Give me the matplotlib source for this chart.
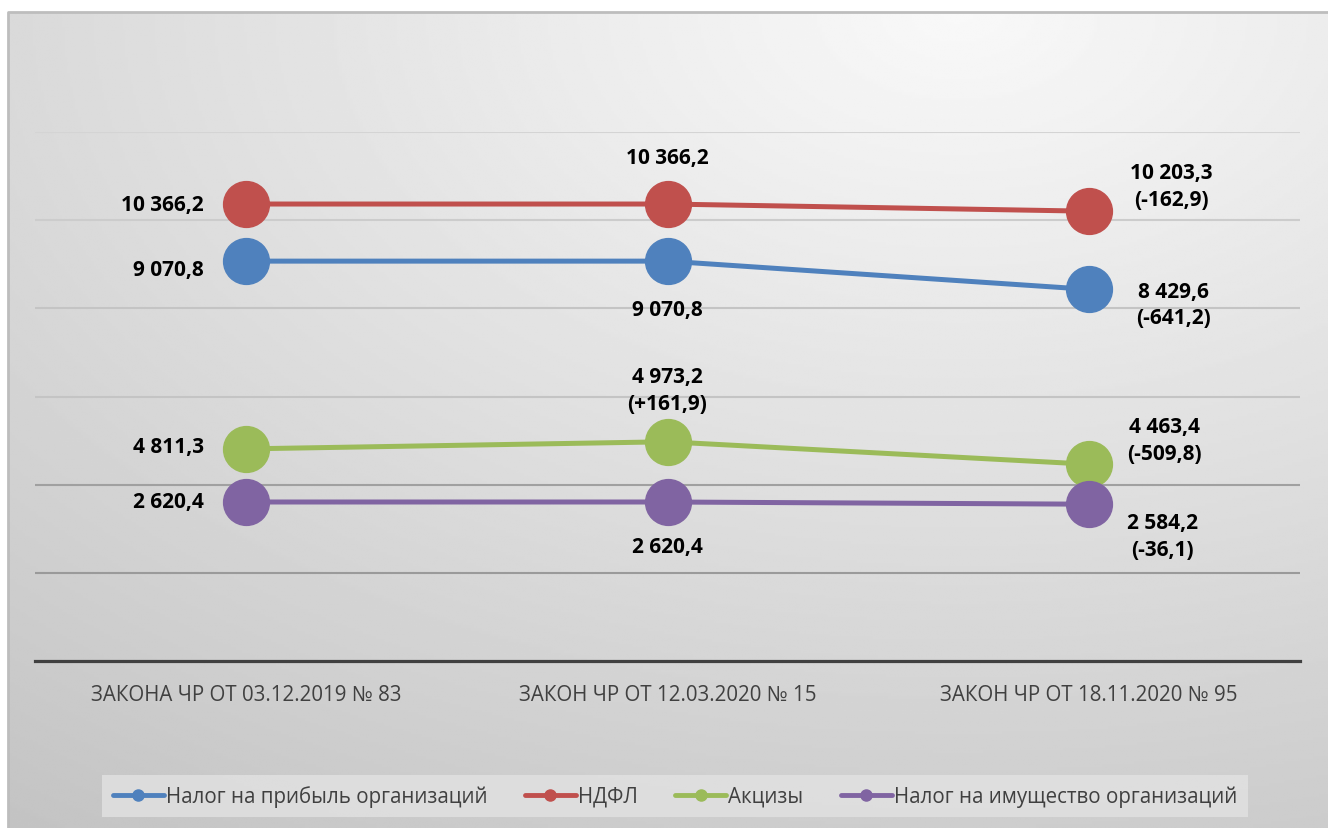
import numpy as np
import matplotlib
matplotlib.use('Agg')
import matplotlib.pyplot as plt
from matplotlib.lines import Line2D

plt.rcParams['font.family'] = ['Open Sans', 'DejaVu Sans']

# data
categories = ['ЗАКОНА ЧР ОТ 03.12.2019 № 83', 'ЗАКОН ЧР ОТ 12.03.2020 № 15', 'ЗАКОН ЧР ОТ 18.11.2020 № 95']
series_names = ['Налог на прибыль организаций', 'НДФЛ', 'Акцизы', 'Налог на имущество организаций']
profit_tax = [9070.8, 9070.8, 8429.6]
ndfl = [10366.2, 10366.2, 10203.3]
excise = [4811.3, 4973.2, 4463.4]
property_tax = [2620.4, 2620.4, 2584.2]

profit_labels = ['9 070,8', '9 070,8', '8 429,6\n(-641,2)']
ndfl_labels = ['10 366,2', '10 366,2', '10 203,3\n(-162,9)']
excise_labels = ['4 811,3', '4 973,2\n(+161,9)', '4 463,4\n(-509,8)']
property_labels = ['2 620,4', '2 620,4', '2 584,2\n(-36,1)']

colors = ['#4F81BD', '#C0504D', '#9BBB59', '#8064A2']

fig = plt.figure(figsize=(13.28, 8.29), dpi=100)

# background gradient
bg = fig.add_axes([8/1328, 0, 1 - 8/1328, 1 - 13/829], zorder=-10)
yy, xx = np.mgrid[0:1:300j, 0:1:500j]
d = np.sqrt((xx - 0.72)**2 + (yy - 0.0)**2)
grad = np.clip(0.975 - 0.17*d, 0, 1)
bg.imshow(grad, cmap='gray', vmin=0, vmax=1, aspect='auto', extent=(0, 1, 1, 0))
bg.set_xlim(0, 1)
bg.set_ylim(1, 0)
bg.axis('off')
bg.plot([0, 0, 1], [1, 0, 0], color='#bdbdbd', lw=2, clip_on=False)

ax = fig.add_axes([35/1328, 1 - 662/829, 1265/1328, 529/829])
ax.patch.set_visible(False)
x = np.arange(len(categories))

# property tax sits on its own scale
ax2 = ax.twinx()
ax2.set_ylim(0, 8718)
ax2.axis('off')

ax.set_xlim(-0.5, 2.5)
ax.set_ylim(0, 12000)
ax.set_yticks(np.arange(0, 12001, 2000))
ax.yaxis.grid(True, color='#c4c4c4', lw=1.5)
for gl, c in zip(ax.get_ygridlines(), ['#c4c4c4', '#9a9a9a', '#a0a0a0', '#c4c4c4', '#c4c4c4', '#cccccc', '#d4d4d4']):
    gl.set_color(c)
ax.set_axisbelow(True)
ax.tick_params(axis='y', left=False, right=False, labelleft=False, labelright=False)
ax.tick_params(axis='x', bottom=False, pad=13)
ax.set_xticks(x)
ax.set_xticklabels(categories, fontsize=14.8, color='#404040')
for s in ['left', 'right', 'top']:
    ax.spines[s].set_visible(False)
ax.spines['bottom'].set_color('#404040')
ax.spines['bottom'].set_linewidth(2.3)

lw = 3.6
ms = 33
ax.plot(x, profit_tax, color=colors[0], lw=lw, marker='o', ms=ms)
ax.plot(x, ndfl, color=colors[1], lw=lw, marker='o', ms=ms)
ax.plot(x, excise, color=colors[2], lw=lw, marker='o', ms=ms)
ax2.plot(x, property_tax, color=colors[3], lw=lw, marker='o', ms=ms)

lab_kw = dict(textcoords='offset pixels', fontsize=15, fontweight='bold', va='center', linespacing=1.35)
offsets_profit = [(-42, -8, 'right'), (0, -48, 'center'), (84, -15, 'center')]
offsets_ndfl = [(-42, 0, 'right'), (0, 47, 'center'), (82, 25, 'center')]
offsets_excise = [(-42, 2, 'right'), (0, 52, 'center'), (75, 24, 'center')]
offsets_property = [(-42, 0, 'right'), (0, -45, 'center'), (73, -32, 'center')]

for a, vals, labs, offs in [(ax, profit_tax, profit_labels, offsets_profit),
                            (ax, ndfl, ndfl_labels, offsets_ndfl),
                            (ax, excise, excise_labels, offsets_excise),
                            (ax2, property_tax, property_labels, offsets_property)]:
    for i in range(len(vals)):
        dx, dy, ha = offs[i]
        a.annotate(labs[i], (x[i], vals[i]), xytext=(dx, dy), ha=ha, **lab_kw)

handles = [Line2D([], [], color=c, lw=3.5, marker='o', ms=8, solid_capstyle='round') for c in colors]
leg = fig.legend(handles, series_names, loc='center', bbox_to_anchor=(675/1328, 1 - 797/829),
                 ncol=4, frameon=True, facecolor='#e2e2e2', edgecolor='none', fancybox=False,
                 fontsize=14.8, handlelength=2.5, handletextpad=0.1, columnspacing=1.8,
                 borderpad=0.5, borderaxespad=0, labelcolor='#404040')
leg.get_frame().set_alpha(0.8)

fig.savefig('out.png', dpi=100)
